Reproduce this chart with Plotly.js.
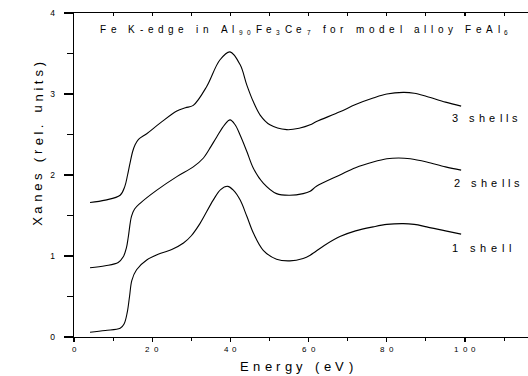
<!DOCTYPE html>
<html>
<head>
<meta charset="utf-8">
<script src="https://cdn.plot.ly/plotly-3.0.1.min.js"></script>
<style>
html,body{margin:0;padding:0;background:#fff;}
#chart{width:528px;height:376px;}
</style>
</head>
<body>
<div id="chart"></div>
<script>
// Energy (eV) and Xanes (rel. units) for each model
const energy1 = [4.1, 8, 11.8, 12.8, 13.6, 14.2, 14.8, 16, 18.6, 22, 25, 28, 30, 32.2, 35.6, 37.5, 39.3, 40.8, 42.5, 44.2, 45.9, 48.4, 51.8, 55.2, 58.6, 60.4, 64, 68, 72, 76.5, 80, 84.2, 87, 90.2, 95, 99];
const xanes1 = [0.058, 0.08, 0.107, 0.16, 0.30, 0.50, 0.70, 0.83, 0.95, 1.03, 1.08, 1.16, 1.25, 1.40, 1.69, 1.82, 1.86, 1.81, 1.69, 1.49, 1.28, 1.07, 0.96, 0.94, 0.97, 1.01, 1.13, 1.24, 1.31, 1.36, 1.39, 1.40, 1.39, 1.36, 1.31, 1.27];

const energy2 = [4.1, 8, 11.3, 12.6, 13.4, 13.9, 14.7, 15.5, 16.9, 21.1, 26.3, 30.5, 33.1, 35, 36.5, 38.5, 39.9, 41.2, 42.5, 44.2, 45.9, 48.4, 51.8, 55.2, 58.6, 60.4, 62, 68, 72, 76.5, 80, 83, 86, 90.2, 95, 99];
const xanes2 = [0.855, 0.88, 0.92, 0.99, 1.10, 1.24, 1.49, 1.58, 1.65, 1.81, 1.98, 2.10, 2.21, 2.35, 2.47, 2.62, 2.68, 2.62, 2.49, 2.29, 2.08, 1.90, 1.77, 1.75, 1.77, 1.80, 1.86, 2.00, 2.09, 2.16, 2.20, 2.21, 2.20, 2.16, 2.10, 2.06];

const energy3 = [4.1, 8, 11.8, 13, 13.7, 14.3, 15.0, 15.6, 16.5, 18.6, 22, 26.3, 28.5, 30.5, 33.9, 37.3, 39.9, 42.5, 44.2, 45.9, 47.6, 50.1, 54.4, 57.8, 60.4, 62, 68, 72, 76.5, 80, 84.2, 87, 90.2, 95, 99];
const xanes3 = [1.66, 1.69, 1.75, 1.86, 2.0, 2.14, 2.29, 2.37, 2.44, 2.51, 2.64, 2.79, 2.83, 2.86, 3.09, 3.42, 3.52, 3.36, 3.11, 2.90, 2.74, 2.62, 2.56, 2.58, 2.62, 2.66, 2.78, 2.87, 2.95, 3.00, 3.02, 3.01, 2.97, 2.90, 2.85];

const seriesLabels = ['1 shell', '2 shells', '3 shells'];
const titleSegments = [
  {t: 'Fe K-edge in Al'}, {t: '90', sub: true}, {t: 'Fe'}, {t: '3', sub: true},
  {t: 'Ce'}, {t: '7', sub: true}, {t: ' for model alloy FeAl'}, {t: '6', sub: true}
];
const xTitle = 'Energy (eV)';
const yTitle = 'Xanes (rel. units)';
const xTickVals = [0, 20, 40, 60, 80, 100];
const xTickText = ['0', '20', '40', '60', '80', '100'];
const yTickVals = [0, 1, 2, 3, 4];

// ---- page geometry (pixels) ----
const W = 528, H = 376;
const M = {l: 74, r: 0, t: 13, b: 39};
const PL = M.l, PB = H - M.b;
// letter-spaced text rows: [left, right, centre y] in page pixels
const titleBox = {L: 100, R: 508, cy: 29, size: 10};
const xTitleBox = {L: 240, R: 353, cy: 366, size: 13};
const yTitleBox = {bottom: 226, top: 62, cx: 38, size: 13};
const seriesBoxes = [
  {L: 452, R: 511, cy: 248, size: 11},
  {L: 454, R: 520, cy: 183, size: 11},
  {L: 452, R: 518, cy: 117.7, size: 11}
];
const tickLabel = {size: 8, gap: 4.3, cy: 349};

const font = {family: 'Liberation Sans, Arial, sans-serif', color: '#000'};

// glyph widths: measured with canvas, Arial-metric table as fallback
const FW = {' ':278,'(':333,')':333,'-':333,'.':278,'A':667,'C':722,'E':667,'F':611,'K':667,'V':667,'X':667,
  'a':556,'d':556,'e':556,'f':278,'g':556,'h':556,'i':222,'l':222,'m':833,'n':556,'o':556,'r':333,'s':500,'t':278,'u':556,'y':500};
let ctx = null;
try { ctx = document.createElement('canvas').getContext('2d'); } catch (e) { ctx = null; }
function charWidth(ch, size) {
  let w = 0;
  if (ctx) { try { ctx.font = size + 'px "Liberation Sans", Arial, sans-serif'; w = ctx.measureText(ch).width; } catch (e) { w = 0; } }
  if (!(w > 0)) w = (FW[ch] || 556) * size / 1000;
  return w;
}
function makeGlyphs(segs, size) {
  const out = [];
  segs.forEach(s => {
    const sz = s.sub ? size * 0.65 : size;
    Array.from(s.t).forEach(ch => out.push({ch, size: sz, dy: s.sub ? -0.3 * size : 0, w: charWidth(ch, sz)}));
  });
  return out;
}
function spreadRow(gl, length) {
  const nat = gl.reduce((a, g) => a + g.w, 0);
  const gap = gl.length > 1 ? (length - nat) / (gl.length - 1) : 0;
  let x = 0;
  gl.forEach(g => { g.c = x + g.w / 2; x += g.w + gap; });
}
function glyphAnn(g, extra) {
  return Object.assign({text: g.ch, showarrow: false, borderpad: 0, xanchor: 'center', yanchor: 'middle',
    font: Object.assign({size: g.size}, font)}, extra);
}

const annotations = [];
function addRow(segs, box) {
  const gl = makeGlyphs(segs, box.size);
  spreadRow(gl, box.R - box.L);
  gl.forEach(g => { if (g.ch !== ' ') annotations.push(glyphAnn(g, {
    xref: 'paper', yref: 'paper', x: 0, y: 0, xshift: box.L + g.c - PL, yshift: PB - box.cy + g.dy})); });
}
addRow(titleSegments, titleBox);
addRow([{t: xTitle}], xTitleBox);
seriesLabels.forEach((s, i) => addRow([{t: s}], seriesBoxes[i]));
(function () {
  const gl = makeGlyphs([{t: yTitle}], yTitleBox.size);
  spreadRow(gl, yTitleBox.bottom - yTitleBox.top);
  gl.forEach(g => { if (g.ch !== ' ') annotations.push(glyphAnn(g, {
    xref: 'paper', yref: 'paper', x: 0, y: 0, textangle: -90,
    xshift: yTitleBox.cx - PL, yshift: PB - (yTitleBox.bottom - g.c)})); });
})();
xTickVals.forEach((v, i) => {
  const gl = makeGlyphs([{t: xTickText[i]}], tickLabel.size);
  const nat = gl.reduce((a, g) => a + g.w, 0);
  const total = nat + tickLabel.gap * (gl.length - 1);
  let x = 0;
  gl.forEach(g => {
    annotations.push(glyphAnn(g, {xref: 'x', yref: 'paper', x: v, y: 0,
      xshift: x + g.w / 2 - total / 2, yshift: PB - tickLabel.cy}));
    x += g.w + tickLabel.gap;
  });
});

const lineStyle = {color: '#000', width: 1.1, shape: 'spline', smoothing: 1};
const traces = [
  {x: energy1, y: xanes1, mode: 'lines', line: lineStyle, hoverinfo: 'skip'},
  {x: energy2, y: xanes2, mode: 'lines', line: lineStyle, hoverinfo: 'skip'},
  {x: energy3, y: xanes3, mode: 'lines', line: lineStyle, hoverinfo: 'skip'},
  {x: [0, 116], y: [4, 4], mode: 'lines', line: {width: 0}, xaxis: 'x2', hoverinfo: 'skip'}
];

const layout = {
  width: W, height: H,
  margin: M,
  paper_bgcolor: '#fff', plot_bgcolor: '#fff',
  showlegend: false,
  font: Object.assign({size: 8}, font),
  xaxis: {
    range: [0, 116.1], showgrid: false, zeroline: false, showline: true, linecolor: '#000', linewidth: 1.3,
    ticks: 'outside', ticklen: 4, tickwidth: 1.3, tickcolor: '#000',
    tickvals: xTickVals, ticktext: xTickText, showticklabels: false,
    minor: {dtick: 10, tick0: 0, ticks: 'outside', ticklen: 3, tickcolor: '#000', tickwidth: 1.1}
  },
  xaxis2: {
    overlaying: 'x', side: 'top', matches: 'x', range: [0, 116.1], showgrid: false, zeroline: false,
    showline: true, linecolor: '#000', linewidth: 1.3, ticks: 'inside', ticklen: 3, tickcolor: '#000',
    tickwidth: 1.1, dtick: 10, tick0: 0, showticklabels: false
  },
  yaxis: {
    range: [0, 4], showgrid: false, zeroline: false, showline: true, linecolor: '#000', linewidth: 1.3,
    ticks: 'outside', ticklen: 9, tickwidth: 1.3, tickcolor: '#000', tickvals: yTickVals,
    ticklabelstandoff: 7,
    tickfont: Object.assign({size: 8.5}, font),
    minor: {dtick: 0.5, tick0: 0, ticks: 'outside', ticklen: 6, tickcolor: '#000', tickwidth: 1.1}
  },
  annotations: annotations
};

Plotly.newPlot('chart', traces, layout, {staticPlot: true, displayModeBar: false});
</script>
</body>
</html>
